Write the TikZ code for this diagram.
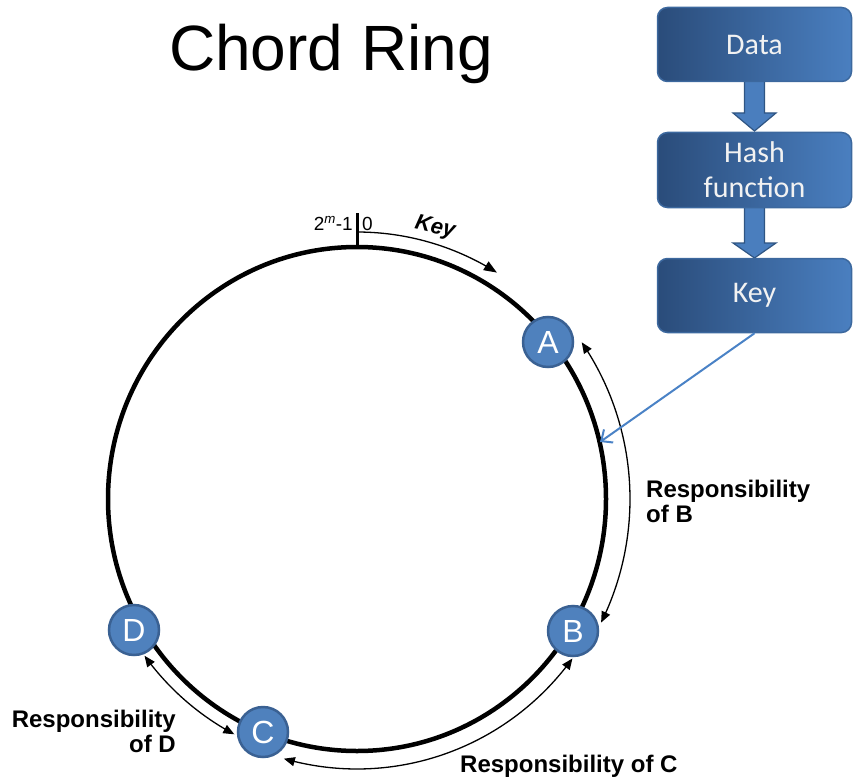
\documentclass[tikz,border=0pt]{standalone}
\usepackage{fontspec}
\setmainfont{Liberation Sans}
\newfontfamily\boxfont{Carlito}
\usetikzlibrary{arrows.meta,calc}

\definecolor{nodeblue}{HTML}{4F81BD}
\definecolor{nodeedge}{HTML}{3A6193}
\definecolor{boxdark}{HTML}{2A4C7A}
\definecolor{boxlight}{HTML}{4A7FC0}
\definecolor{boxedge}{HTML}{3C689E}
\definecolor{arrowfill}{HTML}{4A7EBE}
\definecolor{arrowedge}{HTML}{2F5583}
\definecolor{linkblue}{HTML}{4A82C6}

\begin{document}
\begin{tikzpicture}[x=1pt,y=-1pt,
  peer/.style={circle, fill=nodeblue, draw=nodeedge, line width=2.5pt,
    minimum size=50pt, inner sep=0pt, text=white,
    font=\fontsize{32}{32}\selectfont},
  stagebox/.style={rounded corners=10pt, left color=boxdark, right color=boxlight,
    draw=boxedge, line width=1.5pt, minimum width=194pt, text=white!95!black,
    font=\boxfont\fontsize{30}{35}\selectfont, align=center},
  ringline/.style={line width=4.5pt},
  span/.style={line width=1.3pt,
    {Triangle[length=11pt,width=9pt]}-{Triangle[length=11pt,width=9pt]}},
  resp/.style={font=\bfseries\fontsize{24}{25}\selectfont, inner sep=0pt},
  blockarrow/.style={fill=arrowfill, draw=arrowedge, line width=1.2pt, line join=miter}
]
\useasboundingbox (0,0) rectangle (854,781);

% title
\node[font=\fontsize{64}{64}\selectfont, anchor=base, inner sep=0pt] (title) at (331,71) {Chord Ring};

% the identifier ring
\draw[ringline] (357,499) ellipse [x radius=249pt, y radius=252pt];

% zero mark at the top of the ring
\coordinate (zero) at (357,248);
\draw[line width=3pt] (zero) -- ++(0,-35);
\node[anchor=base east, inner sep=0pt, font=\fontsize{19}{19}\selectfont] (wrap) at (353,230)
  {2\textsuperscript{\itshape m}-1};
\node[anchor=base west, inner sep=0pt, font=\fontsize{19}{19}\selectfont] (origin) at (362,230) {0};

% key direction
\draw[line width=1.3pt, -{Triangle[length=13pt,width=10pt]}]
  plot[domain=-90:-58, samples=40, variable=\t] ({357+264*cos(\t)},{499+267*sin(\t)});
\node[font=\bfseries\itshape\fontsize{22}{22}\selectfont, rotate=-13, inner sep=0pt] (keylabel) at (435,228) {Key};

% responsibility spans
\draw[span] plot[domain=-34.6:26.6, samples=80, variable=\t] ({357+273*cos(\t)},{499+276*sin(\t)});
\draw[span] plot[domain=36.2:105.9, samples=80, variable=\t] ({357+267*cos(\t)},{499+270*sin(\t)});
\draw[span] plot[domain=117.8:143.9, samples=40, variable=\t] ({357+263*cos(\t)},{499+266*sin(\t)});

% peers on the ring
\node[peer] (A) at (548,342) {A};
\node[peer] (B) at (573,631) {B};
\node[peer] (C) at (263,732) {C};
\node[peer] (D) at (134,630) {D};

% span labels
\node[resp, anchor=north west, align=left] (respB) at (646,480) {Responsibility\\of B};
\node[resp, anchor=north east, align=right] (respD) at (176,710) {Responsibility\\of D};
\node[resp, anchor=base west] (respC) at (460,772) {Responsibility of C};

% hashing pipeline
\coordinate (dataS) at (754.5,82);
\coordinate (hashS) at (754.5,208);
\draw[blockarrow] ($(dataS)+(-10,-2)$) -- ($(dataS)+(-10,31)$) -- ($(dataS)+(-21.5,31)$)
  -- ($(dataS)+(0,49)$) -- ($(dataS)+(21.5,31)$) -- ($(dataS)+(10,31)$) -- ($(dataS)+(10,-2)$) -- cycle;
\draw[blockarrow] ($(hashS)+(-10,-2)$) -- ($(hashS)+(-10,35)$) -- ($(hashS)+(-21.5,35)$)
  -- ($(hashS)+(0,50)$) -- ($(hashS)+(21.5,35)$) -- ($(hashS)+(10,35)$) -- ($(hashS)+(10,-2)$) -- cycle;

\node[stagebox, minimum height=74pt] (data) at (754.5,44.5) {Data};
\node[stagebox, minimum height=75pt] (hash) at (754.5,170) {Hash\\function};
\node[stagebox, minimum height=74pt] (key) at (754.5,295.5) {Key};

% key mapped onto the ring
\coordinate (hit) at (600,442);
\draw[linkblue, line width=2pt, -{Straight Barb[length=9pt,width=16pt]}] (key.south) -- (hit);
\end{tikzpicture}
\end{document}
